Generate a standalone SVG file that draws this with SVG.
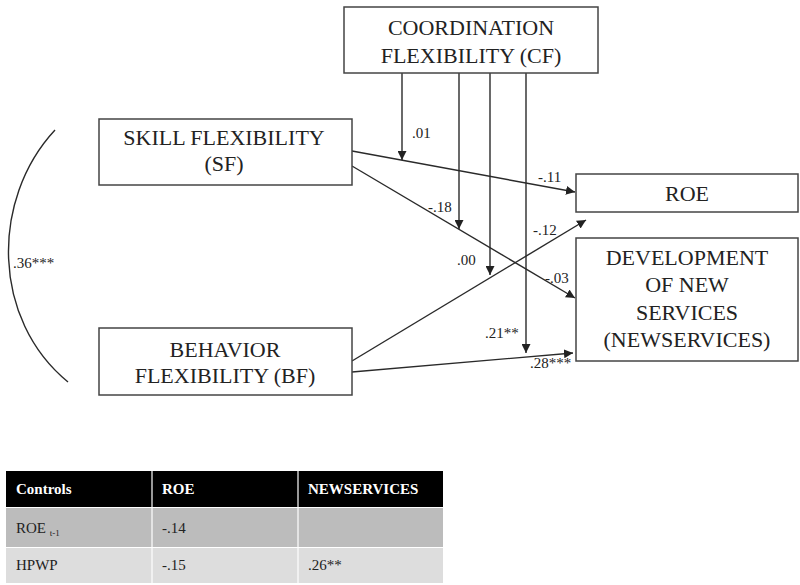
<svg xmlns="http://www.w3.org/2000/svg" width="800" height="585" viewBox="0 0 800 585">
<style>
.box{fill:#fff;stroke:#444;stroke-width:1.5}
.bt{font-family:"Liberation Serif","Times New Roman",serif;font-size:22px;fill:#222;text-anchor:middle}
.lbl{font-family:"Liberation Serif","Times New Roman",serif;font-size:15px;fill:#222}
.ln{stroke:#2a2a2a;stroke-width:1.4;fill:none}
.th{font-family:"Liberation Serif","Times New Roman",serif;font-size:15px;font-weight:bold;fill:#fff}
.td{font-family:"Liberation Serif","Times New Roman",serif;font-size:15px;fill:#222}
</style>
<defs>
<marker id="ah" viewBox="0 0 10 10" refX="10" refY="5" markerWidth="9" markerHeight="9" markerUnits="userSpaceOnUse" orient="auto">
<path d="M0,0 L10,5 L0,10 z" fill="#222"/>
</marker>
</defs>
<rect width="800" height="585" fill="#fff"/>
<g id="connectors">
<line class="ln" x1="352" y1="151" x2="575" y2="192" marker-end="url(#ah)"/>
<line class="ln" x1="352" y1="166" x2="575" y2="298" marker-end="url(#ah)"/>
<line class="ln" x1="352" y1="361" x2="586" y2="220" marker-end="url(#ah)"/>
<line class="ln" x1="352" y1="372" x2="573" y2="353" marker-end="url(#ah)"/>
<line class="ln" x1="402" y1="73" x2="402" y2="160" marker-end="url(#ah)"/>
<line class="ln" x1="459" y1="73" x2="459" y2="229" marker-end="url(#ah)"/>
<line class="ln" x1="490" y1="73" x2="490" y2="275" marker-end="url(#ah)"/>
<line class="ln" x1="526" y1="73" x2="526" y2="353" marker-end="url(#ah)"/>
<path class="ln" d="M55,130 C-10,200 -8,320 68,382"/>
<text class="lbl" x="412" y="138">.01</text>
<text class="lbl" x="538" y="182">-.11</text>
<text class="lbl" x="428" y="212">-.18</text>
<text class="lbl" x="533" y="235">-.12</text>
<text class="lbl" x="457" y="265">.00</text>
<text class="lbl" x="545" y="283">-.03</text>
<text class="lbl" x="485" y="338">.21**</text>
<text class="lbl" x="530" y="368">.28***</text>
<text class="lbl" x="13" y="268">.36***</text>
</g>
<g id="cf">
<rect class="box" x="344" y="7" width="254" height="66"/>
<text class="bt" x="471" y="35">COORDINATION</text>
<text class="bt" x="471" y="63">FLEXIBILITY (CF)</text>
</g>
<g id="sf">
<rect class="box" x="99" y="119" width="253" height="66"/>
<text class="bt" x="224" y="145">SKILL FLEXIBILITY</text>
<text class="bt" x="224" y="171">(SF)</text>
</g>
<g id="bf">
<rect class="box" x="99" y="328" width="253" height="67"/>
<text class="bt" x="225" y="357">BEHAVIOR</text>
<text class="bt" x="225" y="383">FLEXIBILITY (BF)</text>
</g>
<g id="roe">
<rect class="box" x="576" y="174" width="222" height="38"/>
<text class="bt" x="687" y="201">ROE</text>
</g>
<g id="newservices">
<rect class="box" x="576" y="238" width="222" height="123"/>
<text class="bt" x="687" y="265">DEVELOPMENT</text>
<text class="bt" x="687" y="292">OF NEW</text>
<text class="bt" x="687" y="320">SERVICES</text>
<text class="bt" x="687" y="347">(NEWSERVICES)</text>
</g>
<g id="table">
<rect x="6" y="471" width="437" height="36" fill="#000"/>
<rect x="6" y="508" width="437" height="39" fill="#bcbcbc"/>
<rect x="6" y="548" width="437" height="35" fill="#dddddd"/>
<line x1="152" y1="471" x2="152" y2="583" stroke="#fff" stroke-width="1.2"/>
<line x1="298" y1="471" x2="298" y2="583" stroke="#fff" stroke-width="1.2"/>
<text class="th" x="16" y="494">Controls</text>
<text class="th" x="162" y="494">ROE</text>
<text class="th" x="308" y="494">NEWSERVICES</text>
<text class="td" x="16" y="533">ROE <tspan font-size="9" dy="3">t-1</tspan></text>
<text class="td" x="162" y="533">-.14</text>
<text class="td" x="16" y="570">HPWP</text>
<text class="td" x="162" y="570">-.15</text>
<text class="td" x="308" y="570">.26**</text>
</g>
</svg>
